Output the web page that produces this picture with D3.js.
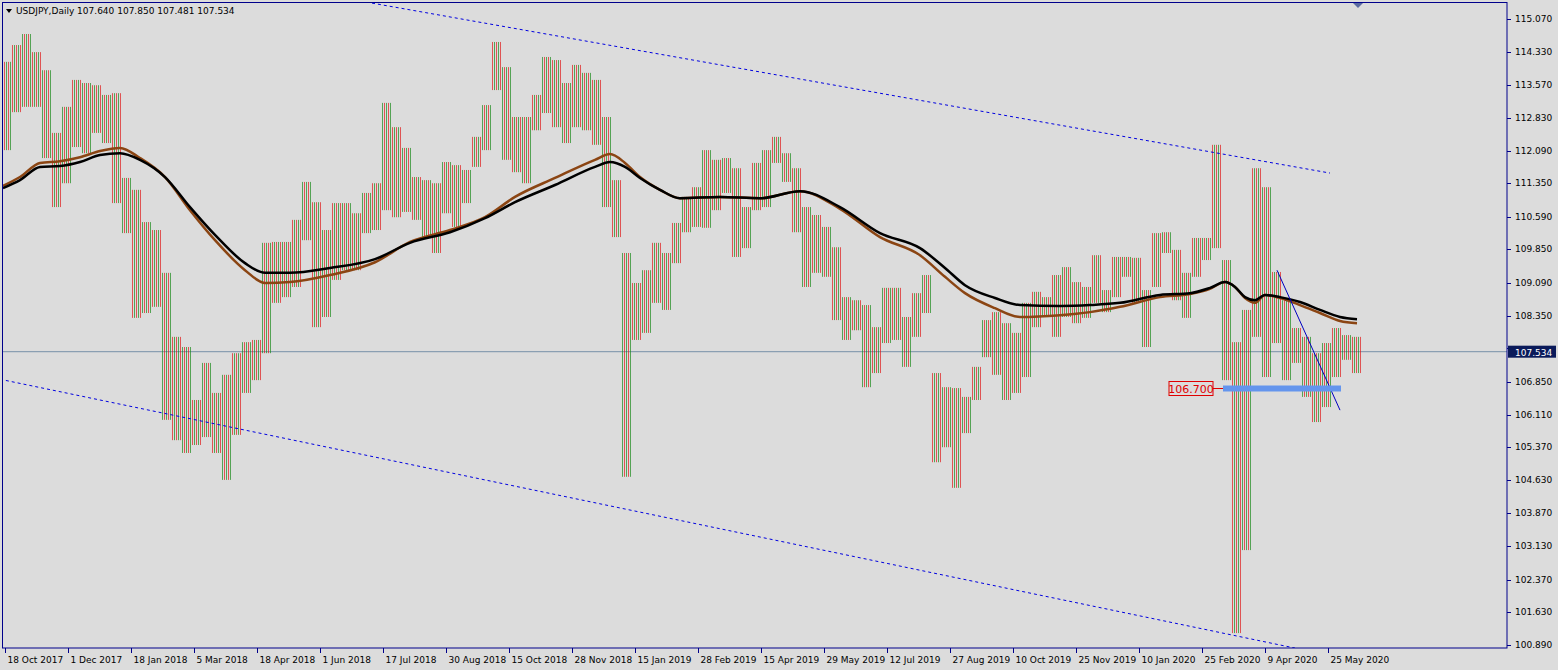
<!DOCTYPE html>
<html><head><meta charset="utf-8">
<script src="https://cdn.jsdelivr.net/npm/d3@7"></script>
<style>body{margin:0;background:#fff;}svg{display:block;font-family:Tahoma,"DejaVu Sans",sans-serif;}</style>
</head><body>
<script>
// weekly-ish bins (about 5 trading days each), high / low
var highs = [114.10,114.48,114.73,114.32,113.91,112.49,113.08,113.69,113.62,113.57,113.35,113.39,111.47,111.20,110.47,110.29,109.32,107.87,107.64,106.44,
  107.28,106.60,107.01,107.50,107.75,107.80,110.00,110.02,110.02,110.52,111.38,110.92,110.29,110.90,110.90,110.67,111.13,111.35,113.17,112.62,
  112.15,111.49,111.42,111.35,111.83,111.76,111.65,112.40,113.12,114.55,113.98,112.85,112.85,113.35,114.21,114.14,113.62,114.03,113.85,113.69,
  112.85,111.42,109.77,109.09,109.38,110.00,109.77,110.45,111.04,111.26,112.10,111.88,111.92,111.69,110.81,111.81,112.10,112.40,112.03,111.69,
  110.81,110.63,110.36,109.90,108.77,108.70,108.59,108.09,108.98,108.98,108.32,108.86,109.27,107.05,106.73,106.71,106.51,107.19,108.25,108.43,
  108.18,107.96,108.64,108.89,108.77,109.27,109.45,109.11,109.00,109.72,108.93,109.68,109.68,109.66,108.93,110.22,110.24,109.84,109.32,110.11,
  110.11,112.22,109.61,107.75,108.48,111.69,111.26,109.34,108.70,108.07,107.87,107.50,107.73,108.07,107.91,107.87];
var lows = [112.10,112.96,113.08,113.08,111.92,110.81,111.35,112.17,112.03,112.49,112.26,110.90,110.22,108.30,108.41,108.55,105.99,105.53,105.24,105.42,
  105.60,105.24,104.63,105.65,106.60,106.89,107.50,108.64,108.77,109.00,110.06,108.09,108.32,109.16,109.38,109.38,110.22,110.29,110.74,110.58,
  110.70,110.52,110.13,109.77,110.67,110.36,110.90,111.72,112.10,113.46,111.88,111.60,111.35,112.55,112.94,112.62,112.26,112.62,112.55,112.22,
  110.81,110.13,104.70,107.80,107.96,108.64,108.48,109.54,110.24,110.36,110.34,110.74,111.13,109.68,109.88,110.74,110.81,111.81,111.38,110.24,
  109.00,109.32,109.23,108.25,107.80,108.02,106.73,107.05,107.73,107.80,107.19,107.87,108.41,105.03,105.37,104.45,105.69,106.44,107.41,107.01,
  106.44,106.60,106.96,108.09,108.32,107.87,108.32,108.18,108.30,108.64,108.43,108.77,109.23,108.64,107.64,109.00,109.77,108.70,108.30,109.23,
  109.61,109.88,106.89,101.16,103.04,107.87,106.96,107.73,106.89,107.28,106.51,105.94,106.28,106.96,107.35,107.05];

// moving averages sampled along the chart: [bin, price]
var maBlack = [[0.1,111.24],[1.8,111.42],[3.8,111.72],[5.8,111.74],[7.8,111.83],[9.8,111.99],[11.8,112.03],[13.8,111.88],[16.3,111.49],[18.8,110.81],
  [21.3,110.18],[24.3,109.54],[26.3,109.32],[28.8,109.32],[32.8,109.43],[37.3,109.63],[40.8,110.00],[44.8,110.24],[48.3,110.56],[51.3,110.92],
  [55.3,111.31],[59.3,111.72],[60.8,111.83],[62.3,111.72],[63.8,111.47],[65.8,111.20],[67.8,111.01],[71.8,111.04],[75.8,111.01],[79.8,111.17],
  [83.8,110.81],[87.8,110.22],[91.8,109.88],[94.3,109.43],[96.3,109.04],[99.3,108.75],[101.8,108.59],[105.8,108.57],[108.8,108.59],[111.8,108.64],
  [115.8,108.82],[118.8,108.86],[120.8,108.98],[122.3,109.11],[123.3,109.00],[124.3,108.77],[125.3,108.70],[126.3,108.82],[127.8,108.77],[129.8,108.66],
  [131.8,108.48],[133.8,108.32],[135.5,108.27]];
var maBrown = [[0.1,111.29],[1.8,111.49],[3.8,111.81],[5.8,111.85],[7.8,111.94],[9.8,112.08],[11.8,112.15],[13.8,111.92],[16.3,111.49],[18.8,110.74],
  [21.3,110.06],[24.3,109.38],[26.3,109.09],[28.8,109.11],[32.8,109.27],[37.3,109.56],[40.8,110.02],[44.8,110.29],[48.3,110.58],[51.3,111.04],
  [55.3,111.47],[59.3,111.88],[60.8,112.01],[62.3,111.81],[63.8,111.49],[65.8,111.20],[67.8,111.01],[71.8,111.04],[75.8,111.01],[79.8,111.17],
  [83.8,110.77],[87.8,110.13],[91.8,109.72],[94.3,109.23],[96.3,108.86],[99.3,108.52],[101.8,108.32],[105.8,108.36],[108.8,108.43],[111.8,108.55],
  [115.8,108.77],[118.8,108.84],[120.8,108.96],[122.3,109.11],[123.3,109.00],[124.3,108.75],[125.3,108.64],[126.3,108.82],[127.8,108.75],[129.8,108.59],
  [131.8,108.41],[133.8,108.23],[135.5,108.18]];

var priceTicks = [115.070,114.330,113.570,112.830,112.090,111.350,110.590,109.850,109.090,108.350,107.610,106.850,106.110,105.370,104.630,103.870,103.130,102.370,101.630,100.890];
var dateLabels = ["18 Oct 2017","1 Dec 2017","18 Jan 2018","5 Mar 2018","18 Apr 2018","1 Jun 2018","17 Jul 2018","30 Aug 2018","15 Oct 2018","28 Nov 2018","15 Jan 2019",
  "28 Feb 2019","15 Apr 2019","29 May 2019","12 Jul 2019","27 Aug 2019","10 Oct 2019","25 Nov 2019","10 Jan 2020","25 Feb 2020","9 Apr 2020","25 May 2020"];
var daysPerLabel = 32, daysPerBin = 5.08;

var lastPrice = 107.534, levelPrice = 106.700;
var channelTop = [[37,115.43],[132.8,111.58]];
var channelBottom = [[-0.2,106.91],[129.3,100.82]];
var trendLine = [[127.5,109.38],[133.8,106.21]];
var levelLine = [[122.1,106.70],[133.9,106.70]];

var W = 1558, H = 670, plotR = 1507, plotB = 648;
var svg = d3.select("body").append("svg").attr("width",W).attr("height",H);
svg.append("rect").attr("width",W).attr("height",H).attr("fill","#dcdcdc");

var x = d3.scaleLinear().domain([0,136]).range([2,1362]);
var y = d3.scaleLinear().domain([100.89,115.07]).range([645,19]);

var defs = svg.append("defs");
var pat = defs.append("pattern").attr("id","bars").attr("patternUnits","userSpaceOnUse").attr("width",4).attr("height",4);
pat.append("rect").attr("x",0).attr("width",1).attr("height",4).attr("fill","#e01818");
pat.append("rect").attr("x",2).attr("width",1).attr("height",4).attr("fill","#1a8a1a");
defs.append("clipPath").attr("id","plot").append("rect").attr("x",2).attr("y",2).attr("width",plotR-2).attr("height",plotB-2);

var g = svg.append("g").attr("clip-path","url(#plot)");

// current price line
g.append("line").attr("x1",2).attr("x2",plotR).attr("y1",y(lastPrice)).attr("y2",y(lastPrice)).attr("stroke","#7890a8").attr("stroke-width",1);

// price bars
g.selectAll("rect.bar").data(highs).enter().append("rect")
  .attr("class","bar")
  .attr("x",(d,i)=>Math.round(x(i)))
  .attr("width",(d,i)=>Math.round(x(i+1))-Math.round(x(i)))
  .attr("y",d=>y(d))
  .attr("height",(d,i)=>y(lows[i])-y(d))
  .attr("fill","url(#bars)")
  .attr("opacity",0.7);

var line = d3.line().x(d=>x(d[0])).y(d=>y(d[1]));
var smooth = d3.line().x(d=>x(d[0])).y(d=>y(d[1])).curve(d3.curveMonotoneX);
g.append("path").attr("d",smooth(maBrown)).attr("fill","none").attr("stroke","#8b4513").attr("stroke-width",2.5);
g.append("path").attr("d",smooth(maBlack)).attr("fill","none").attr("stroke","#000").attr("stroke-width",2.5);

[channelTop,channelBottom].forEach(function(c){
  g.append("path").attr("d",line(c)).attr("stroke","#0000e0").attr("stroke-width",1).attr("stroke-dasharray","3,3").attr("fill","none");
});
g.append("path").attr("d",line(trendLine)).attr("stroke","#0000c0").attr("stroke-width",1).attr("fill","none");
g.append("path").attr("d",line(levelLine)).attr("stroke","#6495ed").attr("stroke-width",6).attr("fill","none");

// level label
var ly = y(levelPrice);
g.append("line").attr("x1",x(levelLine[0][0])-10).attr("x2",x(levelLine[0][0])).attr("y1",ly).attr("y2",ly).attr("stroke","#e00000");
g.append("rect").attr("x",1169).attr("y",ly-7).attr("width",44).attr("height",14).attr("fill","#dcdcdc").attr("stroke","#e00000");
g.append("text").attr("x",1191).attr("y",ly+4).attr("text-anchor","middle").attr("fill","#e00000").style("font-size","11px").text(levelPrice.toFixed(3));

// frame
svg.append("rect").attr("x",2.5).attr("y",2.5).attr("width",plotR-2.5).attr("height",plotB-2.5).attr("fill","none").attr("stroke","#00008b");

// right axis (labels under the price tag are hidden, as the terminal does)
var ya = svg.append("g");
priceTicks.forEach(function(p){
  ya.append("line").attr("x1",plotR).attr("x2",plotR+4).attr("y1",Math.round(y(p))+0.5).attr("y2",Math.round(y(p))+0.5).attr("stroke","#00008b");
  if (Math.abs(y(p)-y(lastPrice)) < 12) return;
  ya.append("text").attr("x",plotR+8).attr("y",y(p)+3).style("font-size","9px").attr("fill","#000").text(p.toFixed(3));
});
ya.append("rect").attr("x",plotR+1).attr("y",y(lastPrice)-6).attr("width",W-plotR-3).attr("height",12).attr("fill","#0a1a5a");
ya.append("text").attr("x",plotR+8).attr("y",y(lastPrice)+4).style("font-size","9px").attr("fill","#fff").text(lastPrice.toFixed(3));

// bottom axis
dateLabels.forEach(function(lab,i){
  var xx = Math.round(x(i*daysPerLabel/daysPerBin+0.3))+0.5;
  svg.append("line").attr("x1",xx).attr("x2",xx).attr("y1",plotB).attr("y2",plotB+5).attr("stroke","#00008b");
  svg.append("text").attr("x",xx+2).attr("y",plotB+15).style("font-size","9px").attr("fill","#000").text(lab);
});

// title and marker
svg.append("path").attr("d","M6,9 L12,9 L9,13 Z").attr("fill","#000");
svg.append("text").attr("x",16).attr("y",14).style("font-size","9px").attr("fill","#000").text("USDJPY,Daily  107.640 107.850 107.481 107.534");
svg.append("path").attr("d","M1353,3 L1363,3 L1358,8 Z").attr("fill","#5a6aa0");
</script>
</body></html>
